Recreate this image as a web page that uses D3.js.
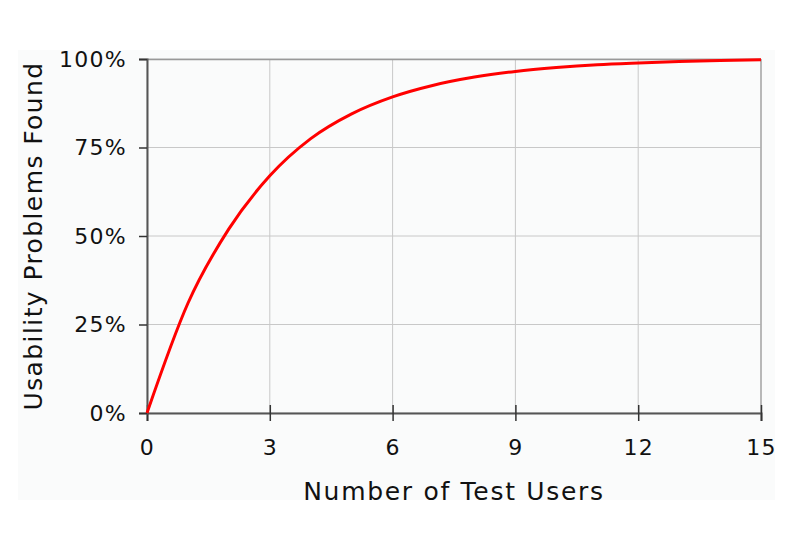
<!DOCTYPE html>
<html>
<head>
<meta charset="utf-8">
<script src="https://cdn.jsdelivr.net/npm/d3@7"></script>
<style>
  body { margin: 0; background: #fff; }
  text { font-family: "DejaVu Sans", Verdana, sans-serif; fill: #111; }
</style>
</head>
<body>
<div id="chart"></div>
<script>
// number of test users and share of usability problems found (%)
var users = [0, 1, 2, 3, 4, 5, 6, 7, 8, 9, 10, 11, 12, 13, 14, 15];
var found = [0, 31, 52, 67, 77.5, 84.5, 89.3, 92.6, 94.9, 96.5, 97.6, 98.4, 98.9, 99.3, 99.6, 99.8];
var xTicks = [0, 3, 6, 9, 12, 15];
var yTicks = [0, 25, 50, 75, 100];
var xTitle = "Number of Test Users";
var yTitle = "Usability Problems Found";

var svg = d3.select('#chart')
    .append('svg')
    .attr('width', 799)
    .attr('height', 535);

var margin = { top: 59, right: 38, bottom: 122, left: 147 };
var width = +svg.attr("width") - margin.left - margin.right;
var height = +svg.attr("height") - margin.top - margin.bottom;

// faint panel behind everything
svg.append("rect")
    .attr("x", 18).attr("y", 50)
    .attr("width", 757).attr("height", 450)
    .attr("fill", "#fafbfb");

var g = svg.append("g").attr("transform", "translate(" + margin.left + "," + margin.top + ")");

var x = d3.scaleLinear().domain([0, 15]).range([0, width]);
var y = d3.scaleLinear().domain([0, 100]).range([height, 0]);

// grid
g.append("g")
    .selectAll("line")
    .data(xTicks)
    .enter().append("line")
    .attr("x1", function (d) { return x(d); })
    .attr("x2", function (d) { return x(d); })
    .attr("y1", 0).attr("y2", height)
    .attr("stroke", "#c8c8c8");
g.append("g")
    .selectAll("line")
    .data(yTicks)
    .enter().append("line")
    .attr("x1", 0).attr("x2", width)
    .attr("y1", function (d) { return y(d); })
    .attr("y2", function (d) { return y(d); })
    .attr("stroke", "#c8c8c8");

// top and right border
g.append("line").attr("x1", 0).attr("x2", width).attr("y1", 0.5).attr("y2", 0.5)
    .attr("stroke", "#999").attr("stroke-width", 1.5);
g.append("line").attr("x1", width).attr("x2", width).attr("y1", 0).attr("y2", height)
    .attr("stroke", "#aaa").attr("stroke-width", 1.5);

var xAxis = g.append("g")
    .attr("transform", "translate(0," + height + ")")
    .call(d3.axisBottom(x).tickValues(xTicks).tickSize(8).tickPadding(18));
xAxis.selectAll(".tick line").attr("y1", -8).attr("stroke", "#333").attr("stroke-width", 1.5);

var yAxis = g.append("g")
    .call(d3.axisLeft(y).tickValues(yTicks).tickSize(8).tickPadding(12)
        .tickFormat(function (d) { return d + "%"; }));
yAxis.selectAll(".tick line").attr("stroke", "#333").attr("stroke-width", 1.5);

[xAxis, yAxis].forEach(function (a) {
    a.select(".domain").attr("stroke", "#555").attr("stroke-width", 2);
    a.selectAll(".tick text")
        .style("font-family", "'DejaVu Sans', Verdana, sans-serif")
        .style("font-size", "22px")
        .style("letter-spacing", "1.3px")
        .attr("fill", "#111");
});

g.append("path")
    .datum(users)
    .attr("fill", "none")
    .attr("stroke", "#ff0000")
    .attr("stroke-width", 3)
    .attr("stroke-linejoin", "round")
    .attr("d", d3.line()
        .x(function (d) { return x(d); })
        .y(function (d, i) { return y(found[i]); })
        .curve(d3.curveMonotoneX));

svg.append("text")
    .attr("x", margin.left + width / 2)
    .attr("y", 500)
    .attr("text-anchor", "middle")
    .style("font-size", "25px")
    .style("letter-spacing", "1.7px")
    .text(xTitle);

svg.append("text")
    .attr("transform", "translate(42," + (margin.top + height / 2) + ") rotate(-90)")
    .attr("text-anchor", "middle")
    .style("font-size", "25px")
    .style("letter-spacing", "1.4px")
    .text(yTitle);
</script>
</body>
</html>
